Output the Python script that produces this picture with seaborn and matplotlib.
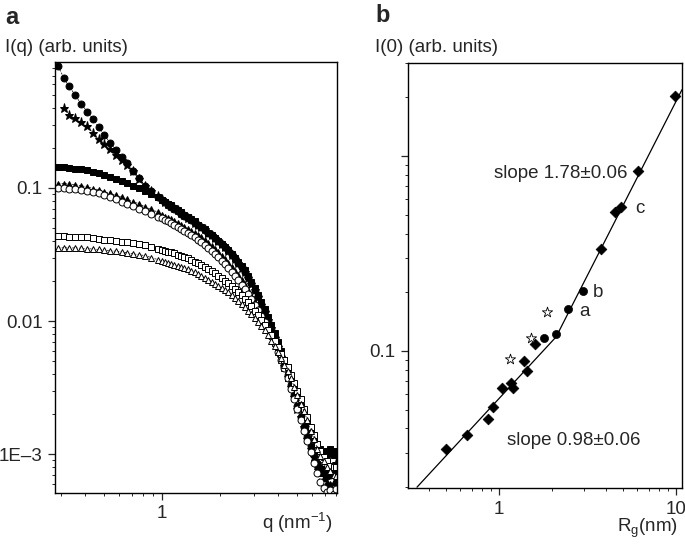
import matplotlib
matplotlib.use("Agg")
import matplotlib.pyplot as plt
import matplotlib.ticker as mticker
import numpy as np
import pandas as pd
import seaborn as sns

# ---- panel a: scattering curves I(q), one list per sample ----
q = [0.29, 0.31, 0.33, 0.355, 0.38, 0.41, 0.44, 0.47, 0.50, 0.54,
     0.58, 0.62, 0.66, 0.71, 0.76, 0.82, 0.88, 0.95,
     1.00, 1.04, 1.08, 1.12, 1.16, 1.21, 1.26, 1.31, 1.36, 1.42,
     1.48, 1.54, 1.60, 1.67, 1.74, 1.81, 1.88, 1.96, 2.04, 2.12,
     2.21, 2.30, 2.39, 2.49, 2.59, 2.69, 2.80, 2.91, 3.03, 3.15,
     3.28, 3.41, 3.55, 3.69, 3.84, 3.99, 4.15, 4.32, 4.49, 4.67,
     4.86, 5.05, 5.25, 5.46, 5.68, 5.91, 6.15, 6.40, 6.65, 6.92,
     7.20, 7.48, 7.78, 8.05]

i_filled_circle = [0.82, 0.67, 0.58, 0.50, 0.43, 0.375, 0.33, 0.285, 0.252, 0.218,
                   0.192, 0.172, 0.153, 0.135, 0.118, 0.104, 0.095, 0.086,
                   0.081, 0.078, 0.075, 0.072, 0.070, 0.067, 0.064, 0.062, 0.060, 0.057,
                   0.055, 0.053, 0.051, 0.048, 0.046, 0.044, 0.042, 0.040, 0.038, 0.036,
                   0.034, 0.032, 0.030, 0.0275, 0.0255, 0.0235, 0.0213, 0.0192, 0.0172, 0.0153,
                   0.0135, 0.0118, 0.0102, 0.0088, 0.0076, 0.0065, 0.0055, 0.0046, 0.0039, 0.0033,
                   0.0028, 0.0023, 0.0019, 0.0016, 0.00135, 0.00115, 0.00098, 0.00086, 0.00078, 0.00072,
                   0.00068, 0.0007, 0.00074, 0.0008]
i_filled_star = [np.nan, 0.40, 0.355, 0.335, 0.315, 0.29, 0.258, 0.232, 0.213, 0.195,
                 0.177, 0.162, 0.148, 0.134, 0.117, 0.104, 0.095, 0.087,
                 0.082, 0.079, 0.076, 0.073, 0.071, 0.068, 0.065, 0.063, 0.060, 0.058,
                 0.055, 0.053, 0.051, 0.049, 0.046, 0.044, 0.042, 0.040, 0.038, 0.036,
                 0.0335, 0.0315, 0.0295, 0.0272, 0.0252, 0.0232, 0.021, 0.019, 0.017, 0.0151,
                 0.0133, 0.0117, 0.0101, 0.0088, 0.0075, 0.0064, 0.0054, 0.0046, 0.0038, 0.0032,
                 0.0027, 0.0022, 0.0019, 0.0016, 0.0013, 0.0011, 0.00095, 0.00085, 0.0008, 0.00076,
                 0.00074, 0.00078, 0.0008, 0.00085]
i_filled_square = [0.144, 0.143, 0.142, 0.140, 0.139, 0.136, 0.133, 0.130, 0.126, 0.121,
                   0.117, 0.113, 0.109, 0.104, 0.100, 0.095, 0.090, 0.085,
                   0.081, 0.079, 0.076, 0.074, 0.071, 0.068, 0.066, 0.063, 0.061, 0.058,
                   0.056, 0.053, 0.051, 0.049, 0.046, 0.044, 0.042, 0.040, 0.038, 0.036,
                   0.034, 0.032, 0.030, 0.028, 0.026, 0.024, 0.0218, 0.0197, 0.0177, 0.0158,
                   0.014, 0.0123, 0.0107, 0.0093, 0.0081, 0.007, 0.006, 0.0051, 0.0044, 0.0037,
                   0.0032, 0.0027, 0.0023, 0.002, 0.0017, 0.0015, 0.0013, 0.0012, 0.0011, 0.00105,
                   0.001, 0.0011, 0.00098, 0.00105]
i_filled_triangle = [0.108, 0.108, 0.107, 0.106, 0.104, 0.102, 0.099, 0.097, 0.094, 0.091,
                     0.088, 0.085, 0.082, 0.079, 0.076, 0.072, 0.069, 0.066,
                     0.063, 0.061, 0.0595, 0.058, 0.0565, 0.055, 0.053, 0.051, 0.0495, 0.0478,
                     0.046, 0.0443, 0.0426, 0.0406, 0.0387, 0.0368, 0.035, 0.033, 0.031, 0.0292,
                     0.0273, 0.0255, 0.0238, 0.022, 0.0203, 0.0187, 0.017, 0.0155, 0.014, 0.0126,
                     0.0113, 0.01, 0.0089, 0.0078, 0.0068, 0.0059, 0.0051, 0.0044, 0.0037, 0.0032,
                     0.0027, 0.0023, 0.0019, 0.0016, 0.0013, 0.0011, 0.00094, 0.00082, 0.00072, 0.00066,
                     0.00062, 0.0006, 0.00062, 0.00065]
i_open_circle = [0.100, 0.100, 0.099, 0.098, 0.097, 0.095, 0.093, 0.091, 0.088, 0.085,
                 0.082, 0.079, 0.076, 0.073, 0.070, 0.067, 0.064, 0.061,
                 0.059, 0.0575, 0.056, 0.0545, 0.053, 0.0513, 0.0495, 0.0478, 0.046, 0.0442,
                 0.0425, 0.0408, 0.0392, 0.0373, 0.0355, 0.0337, 0.032, 0.0302, 0.0285, 0.0268,
                 0.025, 0.0234, 0.0219, 0.0203, 0.0188, 0.0174, 0.016, 0.0146, 0.0133, 0.0121,
                 0.0109, 0.0098, 0.0087, 0.0077, 0.0068, 0.0059, 0.0051, 0.0044, 0.0037, 0.0031,
                 0.0026, 0.0022, 0.0018, 0.0015, 0.00125, 0.00103, 0.00086, 0.00072, 0.00062, 0.00056,
                 0.00052, 0.00054, 0.0005, 0.00055]
i_open_square = [0.0435, 0.0435, 0.043, 0.043, 0.0428, 0.0425, 0.042, 0.0415, 0.041, 0.0405,
                 0.040, 0.0395, 0.039, 0.0385, 0.038, 0.037, 0.036, 0.035,
                 0.0343, 0.0338, 0.0333, 0.0328, 0.0323, 0.0316, 0.031, 0.0303, 0.0296, 0.0288,
                 0.028, 0.0272, 0.0264, 0.0255, 0.0246, 0.0237, 0.0228, 0.0218, 0.021, 0.0201,
                 0.0192, 0.0183, 0.0174, 0.0165, 0.0156, 0.0147, 0.0138, 0.0129, 0.012, 0.0111,
                 0.0102, 0.0094, 0.0086, 0.0078, 0.0071, 0.0064, 0.0057, 0.0051, 0.0045, 0.0039,
                 0.0034, 0.003, 0.0026, 0.0022, 0.0019, 0.0016, 0.0014, 0.0012, 0.00105, 0.00095,
                 0.00088, 0.00082, 0.0008, 0.0008]
i_open_triangle = [0.0355, 0.0355, 0.0355, 0.0354, 0.0353, 0.035, 0.0348, 0.0345, 0.0342, 0.0338,
                   0.0334, 0.033, 0.0326, 0.032, 0.0315, 0.031, 0.030, 0.029,
                   0.0283, 0.0278, 0.0274, 0.027, 0.0265, 0.026, 0.0255, 0.025, 0.0244, 0.0238,
                   0.0232, 0.0226, 0.0219, 0.0212, 0.0205, 0.0198, 0.0191, 0.0183, 0.0178, 0.0171,
                   0.0164, 0.0157, 0.015, 0.0142, 0.0135, 0.0128, 0.012, 0.0113, 0.0106, 0.0099,
                   0.0092, 0.0085, 0.0078, 0.0071, 0.0065, 0.0059, 0.0053, 0.0047, 0.0042, 0.0037,
                   0.0032, 0.0028, 0.0024, 0.0021, 0.0018, 0.0015, 0.0013, 0.0011, 0.00097, 0.00088,
                   0.0008, 0.00074, 0.0007, 0.00068]

# ---- panel b: forward intensity vs radius of gyration ----
rg_diamond = [0.50, 0.66, 0.866, 0.92, 1.04, 1.17, 1.20, 1.38, 1.44, 1.60, 3.77, 4.52, 4.89, 6.1, 9.87]
i0_diamond = [0.0314, 0.0372, 0.0448, 0.0516, 0.0645, 0.0684, 0.0645, 0.089, 0.079, 0.109,
              0.334, 0.516, 0.548, 0.84, 2.03]
rg_circle = [1.80, 2.10, 2.45, 2.98]
i0_circle = [0.117, 0.122, 0.165, 0.203]
rg_star = [1.15, 1.52, 1.87]
i0_star = [0.091, 0.117, 0.158]
fit_rg = [0.344, 2.1, 10.8]
fit_i0 = [0.02, 0.118, 2.19]

sns.set_style("ticks")
plt.rcParams["font.family"] = ["Liberation Sans", "DejaVu Sans"]
plt.rcParams["mathtext.fontset"] = "custom"
plt.rcParams["mathtext.rm"] = "Liberation Sans"
plt.rcParams["mathtext.it"] = "Liberation Sans"
FS = 13.5

fig = plt.figure(figsize=(6.85, 5.44), dpi=100)
ax_a = fig.add_axes([55 / 685, 1 - 493 / 544, 282 / 685, 431 / 544])
ax_b = fig.add_axes([408 / 685, 1 - 488 / 544, 274 / 685, 425 / 544])

series = [
    (i_filled_circle, "o", "black", 5.0),
    (i_filled_star, "*", "black", 6.5),
    (i_filled_square, "s", "black", 4.5),
    (i_filled_triangle, "^", "black", 5.0),
    (i_open_circle, "o", "white", 5.0),
    (i_open_square, "s", "white", 4.5),
    (i_open_triangle, "^", "white", 5.0),
]
for vals, mk, face, ms in series:
    df = pd.DataFrame({"q": q, "I": vals}).dropna()
    sns.lineplot(data=df, x="q", y="I", ax=ax_a, color="black", linewidth=0.5,
                 linestyle=(0, (3, 2)), marker=mk, markersize=ms,
                 markerfacecolor=face, markeredgecolor="black", markeredgewidth=0.7)

ax_a.set_xscale("log")
ax_a.set_yscale("log")
ax_a.set_xlim(0.279, 8.1)
ax_a.set_ylim(5.1e-4, 0.885)
ax_a.xaxis.set_major_locator(mticker.FixedLocator([1]))
ax_a.xaxis.set_major_formatter(mticker.FixedFormatter(["1"]))
ax_a.yaxis.set_major_locator(mticker.FixedLocator([1e-3, 1e-2, 1e-1]))
ax_a.yaxis.set_major_formatter(mticker.FixedFormatter(["1E\u20133", "0.01", "0.1"]))

sns.scatterplot(x=rg_diamond, y=i0_diamond, ax=ax_b, marker="D", s=30, color="black",
                edgecolor="black", linewidth=0.5, zorder=3)
sns.scatterplot(x=rg_circle, y=i0_circle, ax=ax_b, marker="o", s=34, color="black",
                edgecolor="black", linewidth=0.5, zorder=3)
sns.scatterplot(x=rg_star, y=i0_star, ax=ax_b, marker="*", s=60, color="white",
                edgecolor="black", linewidth=0.6, zorder=3)
sns.lineplot(x=fit_rg, y=fit_i0, ax=ax_b, color="black", linewidth=0.9, sort=False)

ax_b.set_xscale("log")
ax_b.set_yscale("log")
ax_b.set_xlim(0.306, 10.8)
ax_b.set_ylim(0.0198, 3.0)
ax_b.xaxis.set_major_locator(mticker.FixedLocator([1, 10]))
ax_b.xaxis.set_major_formatter(mticker.FixedFormatter(["1", "10"]))
ax_b.yaxis.set_major_locator(mticker.FixedLocator([0.1, 1]))
ax_b.yaxis.set_major_formatter(mticker.FixedFormatter(["0.1", ""]))

ax_b.text(5.29, 0.818, "slope 1.78\u00b10.06", ha="right", va="center", fontsize=FS)
ax_b.text(6.26, 0.541, "c", ha="center", va="center", fontsize=FS)
ax_b.text(3.63, 0.200, "b", ha="center", va="center", fontsize=FS)
ax_b.text(3.02, 0.160, "a", ha="center", va="center", fontsize=FS)
ax_b.text(1.11, 0.0349, "slope 0.98\u00b10.06", ha="left", va="center", fontsize=FS)

for ax in (ax_a, ax_b):
    ax.xaxis.set_minor_locator(mticker.LogLocator(base=10, subs=np.arange(2, 10)))
    ax.yaxis.set_minor_locator(mticker.LogLocator(base=10, subs=np.arange(2, 10)))
    ax.xaxis.set_minor_formatter(mticker.NullFormatter())
    ax.yaxis.set_minor_formatter(mticker.NullFormatter())
    ax.tick_params(which="major", direction="out", length=5, width=0.9, labelsize=FS, pad=4)
    ax.tick_params(which="minor", direction="out", length=2.5, width=0.7)
    ax.set_xlabel("")
    ax.set_ylabel("")
    for sp in ax.spines.values():
        sp.set_visible(True)
        sp.set_linewidth(1.0)
        sp.set_color("black")

fig.text(5 / 685, 1 - 17 / 544, "a", fontsize=17, fontweight="bold", va="center", ha="left")
fig.text(5 / 685, 1 - 47 / 544, "I(q) (arb. units)", fontsize=FS, va="center", ha="left")
fig.text(375 / 685, 1 - 16 / 544, "b", fontsize=17, fontweight="bold", va="center", ha="left")
fig.text(375 / 685, 1 - 48 / 544, "I(0) (arb. units)", fontsize=FS, va="center", ha="left")
fig.text(333 / 685, 1 - 523 / 544, "q (nm$^{-1}$)", fontsize=FS, va="center", ha="right")
fig.text(678 / 685, 1 - 528 / 544, "R$_\\mathrm{g}$(nm)", fontsize=FS, va="center", ha="right")

fig.savefig("out.png", dpi=100)
